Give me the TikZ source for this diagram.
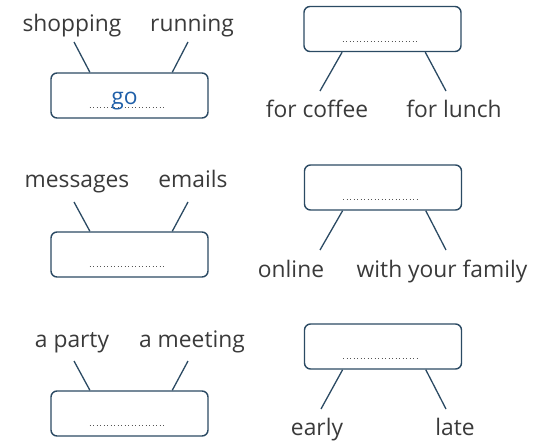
\documentclass[tikz,border=0pt]{standalone}
\usepackage{fontspec}
\setmainfont{Open Sans}
\usetikzlibrary{calc}
\definecolor{ink}{HTML}{3A3A3A}
\definecolor{frame}{HTML}{2B4A63}
\definecolor{answer}{HTML}{1F5FA8}
\definecolor{dots}{HTML}{555555}
\begin{document}
\begin{tikzpicture}[x=1pt,y=-1pt,
  blank/.style={draw=frame, line width=1.4pt, rounded corners=6pt,
    minimum width=157pt, minimum height=45pt, inner sep=0pt},
  word/.style={text=ink, font=\fontsize{22.8}{26}\selectfont, inner sep=0pt, anchor=base},
  link/.style={draw=frame, line width=1.3pt},
  gap/.style={draw=dots, line width=0.9pt, dash pattern=on 1pt off 2.5pt}]
\useasboundingbox (0,0) rectangle (536,441);

% boxes to fill in
\node[blank] (b1) at (129.5,95.5) {};
\node[blank] (b2) at (382.5,29) {};
\node[blank] (b3) at (129.5,254.5) {};
\node[blank] (b4) at (383,187.5) {};
\node[blank] (b5) at (129.5,413.5) {};
\node[blank] (b6) at (383,346.5) {};

% answer lines inside each box
\foreach \b in {b1,b2,b3,b4,b5,b6}{
  \draw[gap] ($(\b.center)+(-40,12)$) -- ($(\b.center)+(35,12)$);
}
\node[word, text=answer] (ans) at (124.5,105) {go};

% collocations
\node[word] (w1a) at (72,32) {shopping};
\node[word] (w1b) at (192,32) {running};
\node[word] (w2a) at (317,118) {for coffee};
\node[word] (w2b) at (454,118) {for lunch};
\node[word] (w3a) at (77,188) {messages};
\node[word] (w3b) at (193,188) {emails};
\node[word] (w4a) at (291,277) {online};
\node[word] (w4b) at (442,277) {with your family};
\node[word] (w5a) at (72,347) {a party};
\node[word] (w5b) at (192,347) {a meeting};
\node[word] (w6a) at (317,435) {early};
\node[word] (w6b) at (455,435) {late};

% free ends of the connectors, next to the words
\coordinate (c1a) at (74,42);   \coordinate (c1b) at (188,42);
\coordinate (c2a) at (320,91);  \coordinate (c2b) at (446,91);
\coordinate (c3a) at (74,202);  \coordinate (c3b) at (188,202);
\coordinate (c4a) at (320,250); \coordinate (c4b) at (446,250);
\coordinate (c5a) at (74,361);  \coordinate (c5b) at (188,361);
\coordinate (c6a) at (321,409); \coordinate (c6b) at (446,409);

% connectors
\draw[link] (c1a) -- ($(b1.north west)!0.25!(b1.north east)$);
\draw[link] (c1b) -- ($(b1.north west)!0.77!(b1.north east)$);
\draw[link] ($(b2.south west)!0.245!(b2.south east)$) -- (c2a);
\draw[link] ($(b2.south west)!0.77!(b2.south east)$) -- (c2b);
\draw[link] (c3a) -- ($(b3.north west)!0.25!(b3.north east)$);
\draw[link] (c3b) -- ($(b3.north west)!0.77!(b3.north east)$);
\draw[link] ($(b4.south west)!0.245!(b4.south east)$) -- (c4a);
\draw[link] ($(b4.south west)!0.77!(b4.south east)$) -- (c4b);
\draw[link] (c5a) -- ($(b5.north west)!0.25!(b5.north east)$);
\draw[link] (c5b) -- ($(b5.north west)!0.77!(b5.north east)$);
\draw[link] ($(b6.south west)!0.245!(b6.south east)$) -- (c6a);
\draw[link] ($(b6.south west)!0.77!(b6.south east)$) -- (c6b);
\end{tikzpicture}
\end{document}
